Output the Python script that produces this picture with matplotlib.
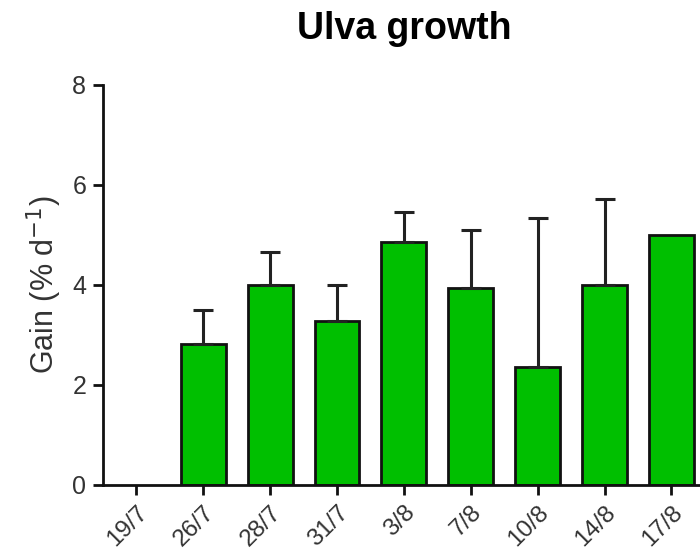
import matplotlib
matplotlib.use("Agg")
import matplotlib.pyplot as plt
import numpy as np

plt.rcParams['font.family'] = ['Liberation Sans', 'DejaVu Sans']

dates = ['19/7', '26/7', '28/7', '31/7', '3/8', '7/8', '10/8', '14/8', '17/8']
gain = [0, 2.82, 4.0, 3.28, 4.86, 3.93, 2.35, 4.0, 5.0]
err = [0, 0.68, 0.65, 0.72, 0.59, 1.17, 2.98, 1.72, 0]

fig = plt.figure(figsize=(7, 5.58), dpi=100)
ax = fig.add_axes([0.147, 0.131, 0.86, 0.717])

x = np.arange(len(dates))
# zero-height bar would otherwise leave a dark stripe on the axis
lw = [2 if g > 0 else 0 for g in gain]
ax.bar(x, gain, width=0.67, color='#00BF00', edgecolor='#111111', linewidth=lw)
ax.errorbar(x[1:8], gain[1:8], yerr=[np.zeros(7), err[1:8]], fmt='none',
            ecolor='#222222', elinewidth=2.2, capsize=7.5, capthick=2.2)

ax.set_xlim(-0.5, 8.5)
ax.set_ylim(0, 8)
ax.set_yticks([0, 2, 4, 6, 8])
ax.set_xticks(x)
ax.set_xticklabels(dates, rotation=45, ha='right', rotation_mode='anchor', fontsize=17.5, color='#333333')
ax.tick_params(axis='y', labelsize=18, labelcolor='#333333', width=2, length=7, color='#111111', pad=5)
ax.tick_params(axis='x', width=2, length=7, color='#111111', pad=5)

for s in ['top', 'right']:
    ax.spines[s].set_visible(False)
for s in ['left', 'bottom']:
    ax.spines[s].set_linewidth(2)
    ax.spines[s].set_color('#111111')

ax.set_ylabel('Gain (% d$^{-1}$)', fontsize=22, color='#333333', labelpad=6)
ax.set_title('Ulva growth', fontsize=27, fontweight='bold', pad=33)

fig.savefig('out.png', dpi=100)
